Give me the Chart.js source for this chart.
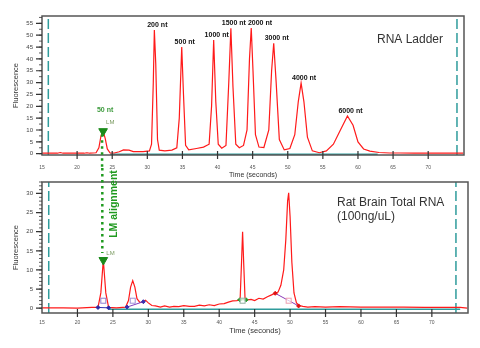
<!DOCTYPE html>
<html>
<head>
<meta charset="utf-8">
<script src="https://cdn.jsdelivr.net/npm/chart.js@4.4.0/dist/chart.umd.min.js"></script>
<style>
    body { margin: 0; background: #fff; }
    #wrap { position: relative; width: 480px; height: 348px; overflow: hidden; }
    #ladderChart { position: absolute; left: 0; top: 0; }
    #brainChart { position: absolute; left: 0; top: 168px; }
</style>
</head>
<body>
<div id="wrap">
    <canvas id="ladderChart" width="480" height="180"></canvas>
    <canvas id="brainChart" width="480" height="180"></canvas>
</div>
<script>
// ---- shared axis ticks ----
const xTickValues = [15, 20, 25, 30, 35, 40, 45, 50, 55, 60, 65, 70];
const xTickLabels = ['15', '20', '25', '30', '35', '40', '45', '50', '55', '60', '65', '70'];
const ladderYTicks = [0, 5, 10, 15, 20, 25, 30, 35, 40, 45, 50, 55];
const brainYTicks = [0, 5, 10, 15, 20, 25, 30];

// ---- RNA ladder (top panel) ----
const ladderTimes = [15, 17.2, 17.6, 18.0, 21.0, 21.4, 21.8, 22.7, 23.1, 23.4, 23.7, 24.0, 24.3, 24.7, 25.3, 26.0, 26.6, 27.4, 28.0, 29.4,
    30.3, 30.6, 30.85, 31.0, 31.2, 31.45, 31.7, 32.5, 33.5, 34.2, 34.55, 34.9, 35.15, 35.45, 35.9, 37.0, 38.0, 38.8, 39.15, 39.45,
    39.75, 40.1, 40.6, 41.2, 41.6, 41.9, 42.2, 42.6, 43.1, 43.7, 44.2, 44.55, 44.8, 45.05, 45.4, 45.9, 46.6, 47.3, 47.7, 48.0,
    48.35, 48.8, 49.5, 50.3, 51.0, 51.5, 51.9, 52.3, 52.8, 53.5, 54.5, 55.5, 56.5, 57.5, 58.5, 59.3, 60.0, 60.8, 61.7, 63.0,
    64.5, 66.0, 68.0, 70.0, 72.0, 74.0, 75.0];
const ladderFluor = [0.2, 0.2, 0.5, 0.2, 0.2, 0.4, 0.2, 0.4, 2.5, 7.5, 9.5, 6.5, 2, 0.3, 0.3, 0.8, 1.6, 1.5, 0.9, 0.9,
    1.2, 4, 30, 52.2, 38, 6, 1.5, 1.2, 1.5, 2.5, 15, 45, 25, 3.5, 1.6, 2.2, 2.8, 4, 20, 48,
    22, 4, 2.3, 3.5, 30, 52.9, 28, 4, 2.5, 3.5, 10, 40, 53, 35, 8, 2.8, 2.6, 10, 35, 46.6,
    30, 6, 1.6, 2.2, 8, 22, 29.8, 22, 7, 1.2, 0.4, 1.2, 4, 10, 15.9, 12, 5, 2, 1.1, 0.5,
    0.3, 0.3, 0.2, 0.3, 0.2, 0.3, 0.2];
const ladderPeakTimes = [31.0, 34.9, 39.45, 41.9, 44.8, 48.0, 51.9, 58.5];
const ladderPeakValues = [52.2, 45, 48, 52.9, 53, 46.6, 29.8, 15.9];
const ladderPeakLabels = ['200 nt', '500 nt', '1000 nt', '1500 nt', '2000 nt', '3000 nt', '4000 nt', '6000 nt'];
const ladderLmTime = 23.7;
const ladderLmValue = 9.5;
const ladderLmLabel = '50 nt';
const ladderWindow = [15.9, 74.1];
const ladderBaseline = [24.7, 62.8];

// ---- Rat brain total RNA (bottom panel) ----
const brainTimes = [15, 18, 20, 22.0, 22.9, 23.3, 23.65, 24.0, 24.4, 25.5, 26.8, 27.2, 27.5, 27.8, 28.1, 28.4, 28.8, 29.2, 29.6, 30.0,
    30.5, 31.0, 31.7, 32.3, 33.0, 33.6, 34.3, 35.0, 35.8, 36.5, 37.2, 37.9, 38.6, 39.3, 40.0, 40.7, 41.3, 41.9, 42.5, 42.95,
    43.15, 43.3, 43.45, 43.65, 44.0, 44.5, 45.0, 45.6, 46.2, 46.8, 47.4, 47.9, 48.3, 48.7, 49.1, 49.4, 49.65, 49.8, 50.0, 50.25,
    50.55, 50.9, 51.3, 51.8, 52.5, 53.5, 55, 57, 60, 63, 66, 69, 72, 74, 75];
const brainFluor = [0.1, 0.1, 0.0, 0.2, 0.2, 4, 12.6, 4, 0.2, 0.1, 0.3, 2, 5.5, 7.2, 5.5, 2.5, 1.5, 1.6, 2.1, 1.4,
    0.7, 0.6, 0.3, 0.6, 0.3, 0.5, 0.4, 0.7, 0.5, 0.5, 0.8, 0.6, 0.9, 0.7, 1.1, 1.2, 1.6, 1.9, 2.0, 2.3,
    12, 20, 12, 2.3, 2.2, 2.3, 2.0, 2.6, 2.4, 3.0, 3.5, 3.9, 4.2, 6, 10, 18, 28, 30.2, 24, 12,
    4, 1.4, 0.7, 0.5, 0.3, 0.4, 0.3, 0.4, 0.3, 0.3, 0.3, 0.2, 0.2, 0.2, 0.0];
const brainPeakTimes = [23.65, 27.8, 43.3, 49.8];
const brainBoundTimes = [22.9, 24.4, 27.0, 29.3, 42.9, 43.8, 47.9, 51.2];
const brainBoundValues = [0.2, 0.1, 0.3, 1.7, 2.2, 2.2, 3.9, 0.6];
const brainLmTime = 23.65;
const brainLmValue = 12.6;
const brainWindow = [15.95, 73.4];
const brainBaseline = [24.4, 74.0];

// ---- styles ----
const RED = '#ff1a1a';
const TEAL = '#2f9c9c';
const LM_GREEN = '#1a8a1a';
const DOT_GREEN = '#1f9a1f';
const boundColors = ['#2828a8', '#2828a8', '#3a30b0', '#3a30b0', '#2a9a2a', '#2a9a2a', '#e01010', '#e01010'];
const segColors = ['#3030b0', '#8040c0', '#2a9a2a', '#8a3ab8'];
const boxColors = ['#9080d0', '#a090d8', '#90b0a0', '#f0a0b0'];

function zip(xs, ys) {
    return xs.map((x, i) => ({ x: x, y: ys[i] }));
}

function vline(x, yMin, yMax) {
    return {
        type: 'line', data: [{ x: x, y: yMin }, { x: x, y: yMax }],
        borderColor: TEAL, borderWidth: 1.5, borderDash: [10, 4], pointRadius: 0, showLine: true
    };
}

function hline(xs, y, color, width) {
    return {
        type: 'line', data: [{ x: xs[0], y: y }, { x: xs[1], y: y }],
        borderColor: color, borderWidth: width, pointRadius: 0, showLine: true
    };
}

function panelOptions(p) {
    return {
        responsive: false,
        animation: false,
        events: [],
        layout: { padding: { left: 0, top: p.padTop, right: p.padRight, bottom: 0 } },
        plugins: { legend: { display: false }, tooltip: { enabled: false } },
        scales: {
            x: {
                type: 'linear', min: 15, max: p.xMax,
                grid: { display: false, drawTicks: false },
                border: { display: false },
                afterBuildTicks: s => { s.ticks = xTickValues.map(v => ({ value: v })); },
                afterFit: s => { s.height = p.xAxisHeight; },
                ticks: {
                    font: { size: 5, family: 'Arial' }, color: '#555', padding: p.xTickPad, maxRotation: 0,
                    callback: v => xTickLabels[xTickValues.indexOf(v)]
                },
                title: {
                    display: true, text: 'Time (seconds)', color: '#333',
                    font: { size: p.xTitleSize, family: 'Arial' }, padding: { top: 0, bottom: p.xTitlePad }
                }
            },
            y: {
                type: 'linear', min: p.yMin, max: p.yMax,
                grid: { display: false, drawTicks: false },
                border: { display: false },
                afterBuildTicks: s => { s.ticks = p.yTicks.map(v => ({ value: v })); },
                afterFit: s => { s.width = 42; },
                ticks: { font: { size: 6, family: 'Arial' }, color: '#444', padding: 9 },
                title: {
                    display: true, text: 'Fluorescence', color: '#333',
                    font: { size: 7.5, family: 'Arial' }, padding: { top: 11.5, bottom: 0 }
                }
            }
        }
    };
}

function drawFrame(chart, minorStep) {
    const ctx = chart.ctx, a = chart.chartArea;
    const xs = chart.scales.x, ys = chart.scales.y;
    ctx.save();
    ctx.strokeStyle = '#555';
    ctx.lineWidth = 1.5;
    ctx.strokeRect(a.left, a.top, a.right - a.left, a.bottom - a.top);
    ctx.strokeStyle = '#333';
    ctx.lineWidth = 1.2;
    ctx.beginPath();
    xs.ticks.forEach(t => {
        if (t.value === xs.min) return;
        const px = xs.getPixelForValue(t.value);
        ctx.moveTo(px, a.bottom - 4);
        ctx.lineTo(px, a.bottom + 4);
    });
    ys.ticks.forEach(t => {
        const py = ys.getPixelForValue(t.value);
        ctx.moveTo(a.left - 6, py);
        ctx.lineTo(a.left, py);
    });
    ctx.stroke();
    ctx.lineWidth = 0.8;
    ctx.beginPath();
    for (let v = 0; v <= ys.max; v += minorStep) {
        const py = ys.getPixelForValue(v);
        ctx.moveTo(a.left - 3, py);
        ctx.lineTo(a.left, py);
    }
    ctx.stroke();
    ctx.restore();
}

function drawLmTag(chart, time, value, dx, dy) {
    const ctx = chart.ctx;
    ctx.save();
    ctx.font = '6px Arial';
    ctx.fillStyle = '#7a9a60';
    ctx.textBaseline = 'middle';
    ctx.fillText('LM', chart.scales.x.getPixelForValue(time) + dx, chart.scales.y.getPixelForValue(value) + dy);
    ctx.restore();
}

const ladderDecor = {
    id: 'ladderDecor',
    afterDatasetsDraw(chart) {
        const ctx = chart.ctx, a = chart.chartArea;
        const xs = chart.scales.x, ys = chart.scales.y;
        drawFrame(chart, 2.5);

        // LM alignment dots, down into the lower panel
        const lx = xs.getPixelForValue(ladderLmTime);
        ctx.save();
        ctx.strokeStyle = DOT_GREEN;
        ctx.lineWidth = 2.5;
        ctx.setLineDash([2.5, 3.5]);
        ctx.beginPath();
        ctx.moveTo(lx - 1, ys.getPixelForValue(ladderLmValue) + 3);
        ctx.lineTo(lx - 1, chart.height - 12);
        ctx.stroke();
        ctx.restore();

        // peak size labels; a label that would hit the previous one slides right
        ctx.save();
        ctx.font = 'bold 7px Arial';
        ctx.textAlign = 'left';
        ctx.textBaseline = 'bottom';
        ctx.fillStyle = '#111';
        let prev = null;
        ladderPeakTimes.forEach((t, i) => {
            const text = ladderPeakLabels[i];
            const w = ctx.measureText(text).width;
            let left = xs.getPixelForValue(t) + 3 - w / 2;
            const bottom = ys.getPixelForValue(ladderPeakValues[i]) - 1.5;
            if (prev && Math.abs(prev.bottom - bottom) < 6 && left < prev.right + 2) {
                left = prev.right + 2;
            }
            ctx.fillText(text, left, bottom);
            prev = { right: left + w, bottom: bottom };
        });
        ctx.textAlign = 'center';
        ctx.fillStyle = '#3c9a3c';
        ctx.fillText(ladderLmLabel, lx + 2, ys.getPixelForValue(ladderLmValue) - 18);
        ctx.restore();
        drawLmTag(chart, ladderLmTime, ladderLmValue, 3, -9);

        ctx.save();
        ctx.font = '12px Arial';
        ctx.fillStyle = '#333';
        ctx.fillText('RNA Ladder', a.right - 87, a.top + 26.5);
        ctx.restore();
    }
};

const brainDecor = {
    id: 'brainDecor',
    afterDatasetsDraw(chart) {
        const ctx = chart.ctx, a = chart.chartArea;
        const xs = chart.scales.x, ys = chart.scales.y;
        drawFrame(chart, 1);

        const lx = xs.getPixelForValue(brainLmTime);
        ctx.save();
        ctx.strokeStyle = DOT_GREEN;
        ctx.lineWidth = 2.5;
        ctx.setLineDash([2.5, 3.5]);
        ctx.beginPath();
        ctx.moveTo(lx - 1, 0);
        ctx.lineTo(lx - 1, ys.getPixelForValue(brainLmValue) - 7);
        ctx.stroke();
        ctx.restore();

        ctx.save();
        ctx.translate(lx + 11, a.top + 22);
        ctx.rotate(-Math.PI / 2);
        ctx.font = 'bold 10.5px Arial';
        ctx.fillStyle = DOT_GREEN;
        ctx.textAlign = 'center';
        ctx.textBaseline = 'middle';
        ctx.fillText('LM alignment', 0, 0);
        ctx.restore();

        // small peak boxes under each peak
        ctx.save();
        ctx.lineWidth = 1;
        brainPeakTimes.forEach((t, i) => {
            const px = xs.getPixelForValue(t), py = ys.getPixelForValue(0);
            ctx.fillStyle = 'rgba(255,255,255,0.7)';
            ctx.strokeStyle = boxColors[i];
            ctx.fillRect(px - 2.5, py - 10, 5, 5);
            ctx.strokeRect(px - 2.5, py - 10, 5, 5);
        });
        ctx.restore();

        drawLmTag(chart, brainLmTime, brainLmValue, 3, -7);

        ctx.save();
        ctx.font = '12px Arial';
        ctx.fillStyle = '#333';
        ctx.fillText('Rat Brain Total RNA', a.right - 131, a.top + 23.5);
        ctx.fillText('(100ng/uL)', a.right - 131, a.top + 38);
        ctx.restore();
    }
};

// ---- top panel ----
const ladderYMin = -0.55, ladderYMax = 58.1;
new Chart(document.getElementById('ladderChart'), {
    type: 'scatter',
    data: {
        datasets: [
            {
                type: 'scatter', data: [{ x: ladderLmTime, y: ladderLmValue }],
                pointStyle: 'triangle', rotation: 180, radius: 5,
                backgroundColor: LM_GREEN, borderColor: LM_GREEN
            },
            {
                type: 'line', data: zip(ladderTimes, ladderFluor),
                borderColor: RED, borderWidth: 1.2, pointRadius: 0, tension: 0
            },
            hline(ladderBaseline, -0.25, TEAL, 1.5),
            vline(ladderWindow[0], ladderYMin, ladderYMax),
            vline(ladderWindow[1], ladderYMin, ladderYMax)
        ]
    },
    options: panelOptions({
        padTop: 16, padRight: 16, xMax: 75.1, xAxisHeight: 25, xTickPad: 9.5,
        xTitleSize: 7, xTitlePad: 0.8, yMin: ladderYMin, yMax: ladderYMax, yTicks: ladderYTicks
    }),
    plugins: [ladderDecor]
});

// ---- bottom panel ----
const brainYMin = -1.25, brainYMax = 33;
const brainSegments = [];
for (let i = 0; i < brainBoundTimes.length; i += 2) {
    brainSegments.push({
        type: 'line',
        data: [{ x: brainBoundTimes[i], y: brainBoundValues[i] }, { x: brainBoundTimes[i + 1], y: brainBoundValues[i + 1] }],
        borderColor: segColors[i / 2], borderWidth: 1, pointRadius: 0
    });
}

new Chart(document.getElementById('brainChart'), {
    type: 'scatter',
    data: {
        datasets: [
            {
                type: 'scatter', data: [{ x: brainLmTime, y: brainLmValue }],
                pointStyle: 'triangle', rotation: 180, radius: 5,
                backgroundColor: LM_GREEN, borderColor: LM_GREEN
            },
            {
                type: 'scatter', data: zip(brainBoundTimes, brainBoundValues),
                pointStyle: 'rectRot', radius: 2,
                backgroundColor: boundColors, borderColor: boundColors
            },
            ...brainSegments,
            {
                type: 'line', data: zip(brainTimes, brainFluor),
                borderColor: RED, borderWidth: 1.2, pointRadius: 0, tension: 0
            },
            hline(brainBaseline, -0.25, TEAL, 1.5),
            vline(brainWindow[0], brainYMin, brainYMax),
            vline(brainWindow[1], brainYMin, brainYMax)
        ]
    },
    options: panelOptions({
        padTop: 14, padRight: 12, xMax: 75.1, xAxisHeight: 35, xTickPad: 7,
        xTitleSize: 7.5, xTitlePad: 12.5, yMin: brainYMin, yMax: brainYMax, yTicks: brainYTicks
    }),
    plugins: [brainDecor]
});
</script>
</body>
</html>
